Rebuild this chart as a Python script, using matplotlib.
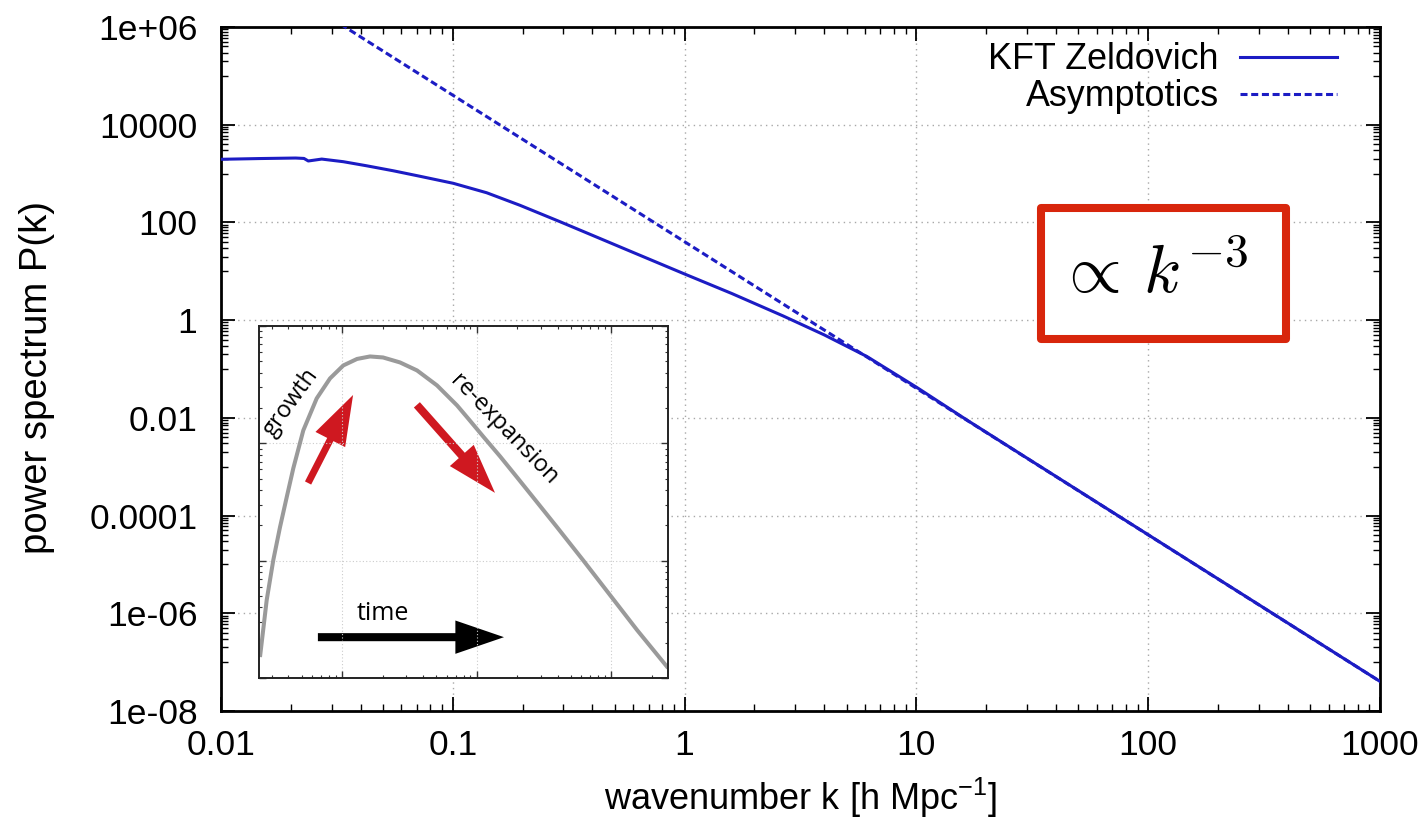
import numpy as np
import matplotlib
matplotlib.use('Agg')
import matplotlib.pyplot as plt
from matplotlib.ticker import FixedLocator, FuncFormatter, NullFormatter
from matplotlib.patches import Rectangle, FancyArrowPatch

plt.rcParams['font.family'] = ['Liberation Sans', 'DejaVu Sans']

# KFT Zeldovich power spectrum
k_kft = [0.01, 0.0147, 0.021, 0.0228, 0.0238, 0.0272, 0.0337, 0.0425, 0.0554, 0.0722,
         0.1005, 0.14, 0.195, 0.29, 0.404, 0.58, 1.0, 1.6, 2.66, 4.0, 6.12, 10.0,
         16.5, 30.0, 100.0, 300.0, 1000.0]
P_kft = [1960, 2030, 2080, 2040, 1810, 1980, 1750, 1443, 1140, 880,
         632, 405, 224, 103.5, 53.5, 26.0, 8.8, 3.5, 1.22, 0.5, 0.18, 0.0425,
         0.00905, 0.0015, 4.05e-05, 1.5e-06, 4.03e-08]

# k^-3 asymptote
k_asym = [0.03, 1000.0]
P_asym = [1.49e6, 4.03e-08]

# inset sketch: growth then re-expansion
t_in = [0.2456, 0.2542, 0.2755, 0.3084, 0.3459, 0.388, 0.4344, 0.5156, 0.6484, 0.8144,
        1.0226, 1.2928, 1.615, 2.018, 2.699, 3.611, 5.085, 7.161, 8.646, 11.18, 14.95,
        20.0, 28.18, 39.68, 61.92, 98.31, 156.1, 265.4]
a_in = [1.509, 2.106, 4.612, 10.1, 19.28, 34.71, 61.27, 129.0, 241.5, 357.5,
        461.2, 523.8, 550.1, 539.4, 489.1, 418.2, 311.6, 210.6, 163.2, 114.7, 77.5,
        51.35, 31.47, 19.28, 10.1, 5.087, 2.562, 1.216]

blue = '#1c1cc4'
red = '#cf1820'

fig = plt.figure(figsize=(14.26, 8.25), dpi=100)
ax = fig.add_axes([221/1426, 1-711/825, 1159/1426, 684/825])

ax.plot(k_asym, P_asym, color=blue, lw=2.2, ls=(0, (2.3, 1.2)), label='Asymptotics', zorder=3)
ax.plot(k_kft, P_kft, color=blue, lw=2.2, label='KFT Zeldovich', zorder=4)

ax.set_xscale('log')
ax.set_yscale('log')
ax.set_xlim(0.01, 1000)
ax.set_ylim(1e-8, 1e6)

ax.yaxis.set_major_locator(FixedLocator(10.0**np.arange(-8, 7, 2)))
ax.yaxis.set_minor_locator(FixedLocator([m*10.0**e for e in range(-7, 6, 2) for m in range(1, 10)]))
fmt = FuncFormatter(lambda v, p: '%g' % v)
ax.xaxis.set_major_formatter(fmt)
ax.yaxis.set_major_formatter(fmt)
ax.xaxis.set_minor_formatter(NullFormatter())
ax.yaxis.set_minor_formatter(NullFormatter())

ax.tick_params(which='both', direction='in', top=True, right=True, labelsize=25.5)
ax.tick_params(which='major', length=10, width=1.3)
ax.tick_params(which='minor', length=5, width=1.0)
ax.tick_params(axis='x', pad=13)
ax.tick_params(axis='y', pad=17)
for s in ax.spines.values():
    s.set_linewidth(2)

ax.grid(True, which='major', color='#a8a8a8', ls=(0, (1, 3)), lw=1.0)

ax.set_xlabel(r'wavenumber k [h Mpc$^{\mathregular{-1}}$]', fontsize=26)
ax.set_ylabel('power spectrum P(k)', fontsize=27.5)
ax.xaxis.set_label_coords(0.5, -0.095)
ax.yaxis.set_label_coords(-0.143, 0.4876)

h, l = ax.get_legend_handles_labels()
ax.legend(h[::-1], l[::-1], loc='upper right', bbox_to_anchor=(0.963, 0.978),
          frameon=False, markerfirst=False, fontsize=25.8, handlelength=2.7,
          handletextpad=0.6, labelspacing=0.06, borderpad=0, borderaxespad=0)

# red box with the power law
ax.add_patch(Rectangle((0.7075, 0.5439), 0.2114, 0.1915, transform=ax.transAxes,
                       facecolor='white', edgecolor='#d8260c', lw=5.8,
                       joinstyle='round', zorder=5))
ax.text(0.804, 0.611, r'$\propto\,k^{-3}$', transform=ax.transAxes, fontsize=49,
        math_fontfamily='cm', ha='center', va='baseline', zorder=6)

# inset
axin = fig.add_axes([259/1426, 1-678/825, 409/1426, 352/825])
axin.set_facecolor('white')
axin.plot(t_in, a_in, color='#9a9a9a', lw=2.9, solid_capstyle='butt', solid_joinstyle='round')
axin.set_xscale('log')
axin.set_yscale('log')
axin.set_xlim(0.2415, 265)
axin.set_ylim(1, 1000)
axin.grid(True, which='major', color='#cccccc', ls=(0, (1, 2)), lw=0.8)
axin.tick_params(which='both', direction='in', top=True, right=True,
                 labelbottom=False, labelleft=False, color='#333333')
axin.tick_params(which='major', length=5, width=1.0)
axin.tick_params(which='minor', length=2.5, width=0.8)
for s in axin.spines.values():
    s.set_linewidth(1.4)
    s.set_color('#222222')

axin.add_patch(FancyArrowPatch((0.120, 0.554), (0.230, 0.804), transform=axin.transAxes,
                               arrowstyle='simple,head_length=36,head_width=24,tail_width=5',
                               mutation_scale=1, color=red, shrinkA=0, shrinkB=0, lw=0))
axin.add_patch(FancyArrowPatch((0.386, 0.776), (0.577, 0.526), transform=axin.transAxes,
                               arrowstyle='simple,head_length=36,head_width=23,tail_width=5.8',
                               mutation_scale=1, color=red, shrinkA=0, shrinkB=0, lw=0))
axin.add_patch(FancyArrowPatch((0.144, 0.116), (0.599, 0.116), transform=axin.transAxes,
                               arrowstyle='simple,head_length=35,head_width=24,tail_width=5.8',
                               mutation_scale=1, color='black', shrinkA=0, shrinkB=0, lw=0))

axin.text(0.303, 0.165, 'time', transform=axin.transAxes, fontsize=18,
          family=['Open Sans', 'DejaVu Sans'], ha='center', va='baseline')
axin.text(0.078, 0.784, 'growth', transform=axin.transAxes, fontsize=17, rotation=54,
          rotation_mode='anchor', family=['Open Sans', 'DejaVu Sans'], ha='center', va='center')
axin.text(0.599, 0.705, 're-expansion', transform=axin.transAxes, fontsize=17, rotation=-46,
          rotation_mode='anchor', family=['Open Sans', 'DejaVu Sans'], ha='center', va='center')

fig.savefig('out.png', dpi=100)
